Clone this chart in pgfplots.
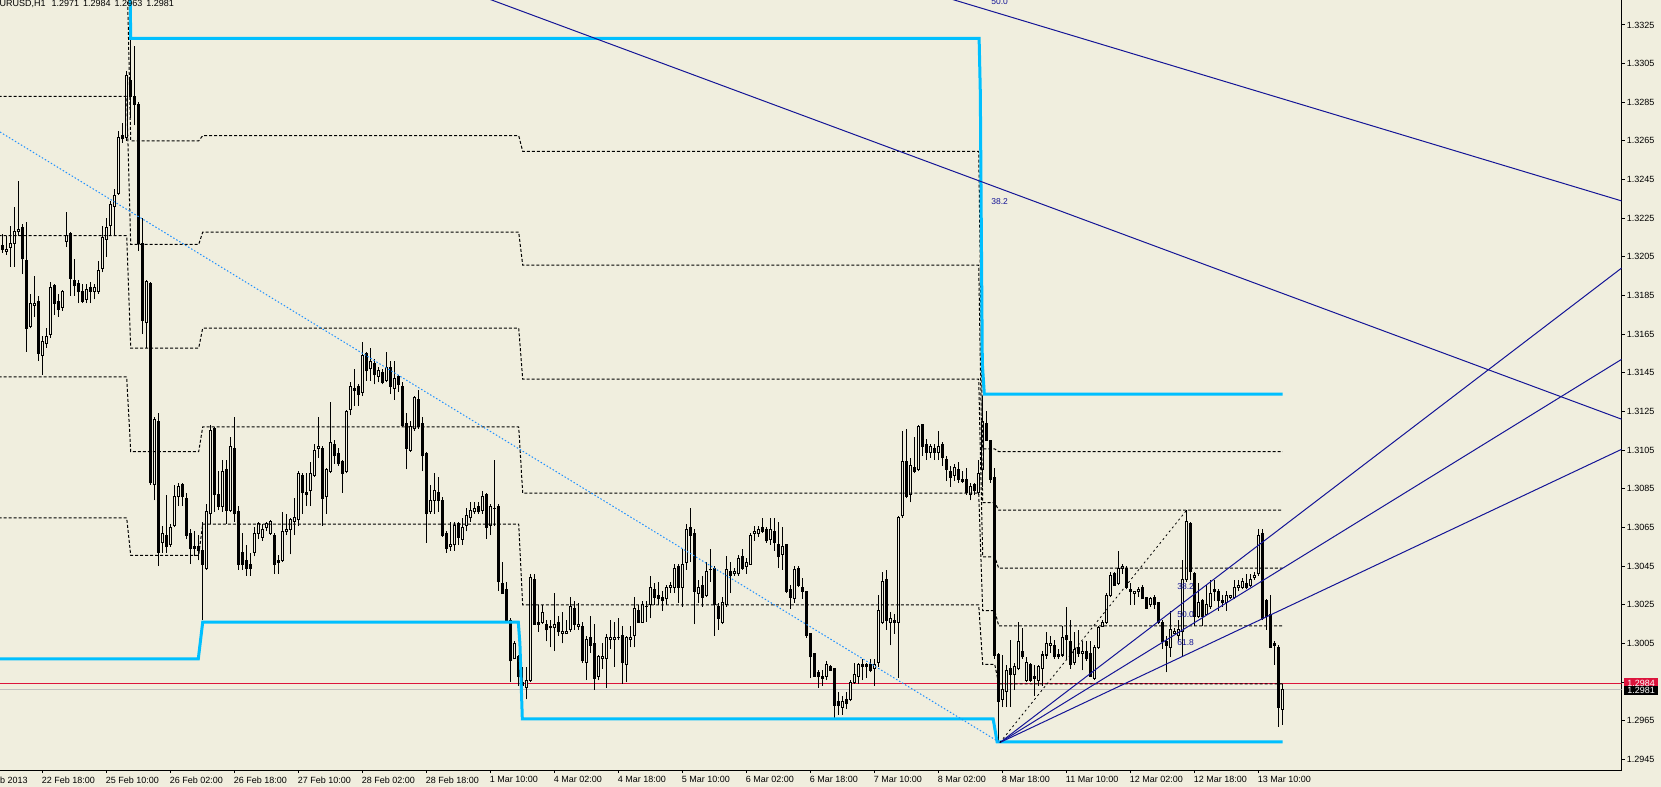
\documentclass[border=0pt]{standalone}
\usepackage{pgfplots}
\pgfplotsset{compat=1.18}
\usepackage{pgfplotstable}
\usepackage{fontspec}
\setmainfont{Liberation Sans}
\definecolor{bg}{RGB}{240,238,222}
\definecolor{cyanl}{RGB}{0,191,255}
\definecolor{dodger}{RGB}{30,144,255}
\definecolor{navyl}{RGB}{20,20,150}
\definecolor{askred}{RGB}{220,20,60}
\definecolor{bidgray}{RGB}{192,192,192}
\newcommand\tf{\fontsize{9bp}{10bp}\selectfont}
\newcommand\lf{\fontsize{8.5bp}{9bp}\selectfont}
\pgfplotstableread{
i O H L C
0 1.3211 1.3217 1.3207 1.3209
1 1.3208 1.3216 1.3206 1.3209
2 1.3210 1.3221 1.3200 1.3212
3 1.3212 1.3231 1.3200 1.3218
4 1.3218 1.3244 1.3216 1.3219
5 1.3220 1.3222 1.3196 1.3204
6 1.3203 1.3223 1.3156 1.3168
7 1.3169 1.3186 1.3168 1.3181
8 1.3180 1.3195 1.3174 1.3181
9 1.3182 1.3185 1.3151 1.3155
10 1.3154 1.3164 1.3144 1.3161
11 1.3160 1.3168 1.3158 1.3164
12 1.3165 1.3192 1.3163 1.3189
13 1.3190 1.3191 1.3175 1.3181
14 1.3182 1.3186 1.3174 1.3178
15 1.3179 1.3188 1.3177 1.3187
16 1.3213 1.3228 1.3210 1.3216
17 1.3217 1.3218 1.3185 1.3194
18 1.3193 1.3204 1.3185 1.3190
19 1.3191 1.3193 1.3181 1.3187
20 1.3187 1.3191 1.3181 1.3182
21 1.3183 1.3191 1.3181 1.3188
22 1.3189 1.3192 1.3181 1.3187
23 1.3187 1.3191 1.3183 1.3189
24 1.3187 1.3203 1.3186 1.3198
25 1.3199 1.3221 1.3197 1.3215
26 1.3214 1.3225 1.3205 1.3220
27 1.3221 1.3234 1.3216 1.3232
28 1.3231 1.3240 1.3216 1.3237
29 1.3238 1.3270 1.3237 1.3267
30 1.3268 1.3274 1.3264 1.3266
31 1.3267 1.3301 1.3265 1.3299
32 1.3296 1.3318 1.3277 1.3288
33 1.3288 1.3314 1.3273 1.3284
34 1.3284 1.3285 1.3208 1.3212
35 1.3212 1.3225 1.3165 1.3172
36 1.3171 1.3193 1.3158 1.3192
37 1.3191 1.3192 1.3087 1.3088
38 1.3087 1.3122 1.3079 1.3121
39 1.3120 1.3124 1.3045 1.3052
40 1.3057 1.3066 1.3052 1.3062
41 1.3061 1.3082 1.3052 1.3055
42 1.3056 1.3067 1.3055 1.3065
43 1.3066 1.3087 1.3065 1.3081
44 1.3081 1.3088 1.3076 1.3086
45 1.3087 1.3088 1.3076 1.3081
46 1.3080 1.3083 1.3059 1.3061
47 1.3062 1.3064 1.3046 1.3054
48 1.3055 1.3063 1.3050 1.3054
49 1.3055 1.3061 1.3048 1.3053
50 1.3053 1.3068 1.3017 1.3046
51 1.3044 1.3077 1.3043 1.3073
52 1.3072 1.3118 1.3067 1.3115
53 1.3116 1.3117 1.3073 1.3082
54 1.3082 1.3094 1.3074 1.3076
55 1.3076 1.3100 1.3073 1.3094
56 1.3095 1.3100 1.3067 1.3074
57 1.3074 1.3112 1.3073 1.3107
58 1.3106 1.3122 1.3068 1.3072
59 1.3073 1.3076 1.3043 1.3046
60 1.3052 1.3062 1.3043 1.3046
61 1.3048 1.3056 1.3040 1.3044
62 1.3046 1.3052 1.3040 1.3044
63 1.3052 1.3065 1.3050 1.3062
64 1.3062 1.3068 1.3059 1.3067
65 1.3060 1.3067 1.3058 1.3064
66 1.3065 1.3068 1.3063 1.3067
67 1.3062 1.3069 1.3061 1.3068
68 1.3061 1.3062 1.3041 1.3046
69 1.3048 1.3051 1.3041 1.3047
70 1.3048 1.3073 1.3047 1.3063
71 1.3063 1.3072 1.3061 1.3064
72 1.3064 1.3070 1.3051 1.3069
73 1.3068 1.3080 1.3061 1.3070
74 1.3069 1.3094 1.3066 1.3093
75 1.3092 1.3093 1.3072 1.3083
76 1.3083 1.3093 1.3076 1.3082
77 1.3084 1.3099 1.3076 1.3093
78 1.3092 1.3108 1.3091 1.3105
79 1.3106 1.3122 1.3101 1.3107
80 1.3106 1.3107 1.3066 1.3080
81 1.3081 1.3096 1.3072 1.3095
82 1.3094 1.3130 1.3093 1.3109
83 1.3108 1.3110 1.3098 1.3102
84 1.3103 1.3106 1.3097 1.3098
85 1.3099 1.3100 1.3083 1.3093
86 1.3094 1.3126 1.3093 1.3125
87 1.3126 1.3140 1.3123 1.3138
88 1.3137 1.3147 1.3128 1.3136
89 1.3138 1.3139 1.3128 1.3134
90 1.3135 1.3161 1.3133 1.3154
91 1.3155 1.3156 1.3141 1.3146
92 1.3147 1.3158 1.3141 1.3151
93 1.3150 1.3152 1.3139 1.3144
94 1.3143 1.3148 1.3140 1.3146
95 1.3145 1.3147 1.3139 1.3140
96 1.3141 1.3156 1.3140 1.3148
97 1.3148 1.3151 1.3134 1.3138
98 1.3137 1.3151 1.3131 1.3142
99 1.3143 1.3144 1.3135 1.3139
100 1.3138 1.3140 1.3117 1.3118
101 1.3119 1.3124 1.3095 1.3106
102 1.3105 1.3120 1.3104 1.3117
103 1.3116 1.3133 1.3115 1.3132
104 1.3131 1.3136 1.3116 1.3117
105 1.3119 1.3122 1.3094 1.3102
106 1.3103 1.3104 1.3057 1.3072
107 1.3073 1.3087 1.3072 1.3079
108 1.3079 1.3093 1.3072 1.3084
109 1.3083 1.3091 1.3073 1.3079
110 1.3079 1.3081 1.3060 1.3061
111 1.3062 1.3063 1.3052 1.3054
112 1.3055 1.3068 1.3053 1.3056
113 1.3056 1.3068 1.3053 1.3066
114 1.3067 1.3068 1.3056 1.3060
115 1.3059 1.3070 1.3056 1.3065
116 1.3066 1.3075 1.3063 1.3071
117 1.3070 1.3078 1.3068 1.3074
118 1.3073 1.3078 1.3072 1.3075
119 1.3076 1.3078 1.3072 1.3073
120 1.3074 1.3084 1.3072 1.3081
121 1.3082 1.3083 1.3059 1.3065
122 1.3066 1.3077 1.3061 1.3076
123 1.3075 1.3100 1.3066 1.3075
124 1.3076 1.3077 1.3032 1.3037
125 1.3036 1.3047 1.3031 1.3031
126 1.3033 1.3037 1.3017 1.3017
127 1.3017 1.3018 1.2985 1.2996
128 1.2997 1.3006 1.2997 1.3005
129 1.2998 1.2999 1.2983 1.2988
130 1.2985 1.2993 1.2982 1.2983
131 1.2982 1.2993 1.2976 1.2986
132 1.2986 1.3041 1.2985 1.3039
133 1.3038 1.3041 1.3015 1.3015
134 1.3016 1.3025 1.3011 1.3015
135 1.3016 1.3025 1.3015 1.3021
136 1.3015 1.3017 1.3006 1.3012
137 1.3014 1.3017 1.3003 1.3013
138 1.3013 1.3031 1.3001 1.3015
139 1.3016 1.3019 1.3009 1.3011
140 1.3010 1.3021 1.3005 1.3011
141 1.3010 1.3017 1.3010 1.3011
142 1.3012 1.3029 1.3011 1.3024
143 1.3023 1.3027 1.3012 1.3015
144 1.3014 1.3026 1.3012 1.3015
145 1.3014 1.3016 1.2995 1.2996
146 1.2995 1.3009 1.2986 1.3007
147 1.3008 1.3019 1.3000 1.3004
148 1.3005 1.3015 1.2981 1.2987
149 1.2988 1.2999 1.2986 1.2998
150 1.2997 1.3005 1.2992 1.2998
151 1.2997 1.3010 1.2982 1.3008
152 1.3007 1.3017 1.3002 1.3008
153 1.3007 1.3016 1.2993 1.3008
154 1.3008 1.3018 1.3007 1.3008
155 1.3009 1.3014 1.2984 1.2995
156 1.2994 1.3009 1.2985 1.3008
157 1.3007 1.3014 1.3003 1.3008
158 1.3009 1.3029 1.3003 1.3023
159 1.3022 1.3025 1.3016 1.3016
160 1.3016 1.3027 1.3016 1.3025
161 1.3024 1.3027 1.3016 1.3024
162 1.3025 1.3040 1.3018 1.3034
163 1.3033 1.3036 1.3025 1.3029
164 1.3030 1.3037 1.3025 1.3028
165 1.3029 1.3032 1.3022 1.3027
166 1.3028 1.3035 1.3025 1.3034
167 1.3034 1.3037 1.3031 1.3035
168 1.3034 1.3046 1.3031 1.3044
169 1.3045 1.3046 1.3026 1.3034
170 1.3034 1.3054 1.3024 1.3046
171 1.3047 1.3067 1.3043 1.3064
172 1.3065 1.3075 1.3047 1.3061
173 1.3062 1.3064 1.3015 1.3032
174 1.3031 1.3038 1.3026 1.3034
175 1.3035 1.3040 1.3024 1.3029
176 1.3030 1.3047 1.3029 1.3042
177 1.3043 1.3054 1.3037 1.3043
178 1.3044 1.3045 1.3009 1.3025
179 1.3024 1.3026 1.3012 1.3018
180 1.3016 1.3029 1.3015 1.3026
181 1.3025 1.3050 1.3024 1.3043
182 1.3042 1.3047 1.3031 1.3040
183 1.3041 1.3044 1.3040 1.3042
184 1.3041 1.3051 1.3040 1.3049
185 1.3050 1.3054 1.3043 1.3044
186 1.3045 1.3049 1.3041 1.3047
187 1.3046 1.3062 1.3046 1.3061
188 1.3062 1.3066 1.3058 1.3063
189 1.3062 1.3066 1.3060 1.3064
190 1.3065 1.3070 1.3062 1.3063
191 1.3064 1.3065 1.3057 1.3058
192 1.3059 1.3070 1.3056 1.3064
193 1.3063 1.3070 1.3053 1.3057
194 1.3056 1.3068 1.3044 1.3050
195 1.3051 1.3065 1.3043 1.3055
196 1.3056 1.3056 1.3031 1.3032
197 1.3033 1.3035 1.3023 1.3029
198 1.3028 1.3045 1.3026 1.3043
199 1.3044 1.3045 1.3034 1.3035
200 1.3034 1.3039 1.3028 1.3032
201 1.3032 1.3032 1.3008 1.3009
202 1.3010 1.3010 1.2987 1.2998
203 1.3000 1.3000 1.2988 1.2988
204 1.2990 1.2991 1.2982 1.2988
205 1.2988 1.2991 1.2983 1.2987
206 1.2988 1.2996 1.2986 1.2994
207 1.2993 1.2994 1.2991 1.2991
208 1.2992 1.2992 1.2966 1.2973
209 1.2975 1.2980 1.2968 1.2973
210 1.2972 1.2978 1.2968 1.2975
211 1.2976 1.2980 1.2971 1.2974
212 1.2976 1.2986 1.2975 1.2985
213 1.2985 1.2995 1.2984 1.2989
214 1.2988 1.2995 1.2984 1.2994
215 1.2994 1.2997 1.2986 1.2993
216 1.2994 1.2995 1.2987 1.2993
217 1.2994 1.2997 1.2990 1.2991
218 1.2992 1.2997 1.2983 1.2994
219 1.2995 1.3030 1.2993 1.3022
220 1.3016 1.3042 1.3015 1.3037
221 1.3038 1.3043 1.3012 1.3017
222 1.3016 1.3021 1.3004 1.3018
223 1.3017 1.3020 1.3010 1.3016
224 1.3016 1.3071 1.2987 1.3070
225 1.3071 1.3115 1.3070 1.3099
226 1.3099 1.3116 1.3080 1.3081
227 1.3082 1.3101 1.3078 1.3097
228 1.3096 1.3112 1.3093 1.3094
229 1.3095 1.3118 1.3094 1.3117
230 1.3118 1.3118 1.3102 1.3107
231 1.3108 1.3111 1.3100 1.3104
232 1.3104 1.3108 1.3101 1.3107
233 1.3106 1.3108 1.3100 1.3104
234 1.3104 1.3115 1.3100 1.3107
235 1.3108 1.3109 1.3097 1.3101
236 1.3100 1.3102 1.3089 1.3095
237 1.3094 1.3097 1.3086 1.3091
238 1.3092 1.3098 1.3089 1.3096
239 1.3095 1.3099 1.3088 1.3090
240 1.3090 1.3094 1.3088 1.3089
241 1.3090 1.3096 1.3082 1.3083
242 1.3082 1.3088 1.3079 1.3086
243 1.3087 1.3088 1.3082 1.3084
244 1.3083 1.3100 1.3082 1.3093
245 1.3095 1.3133 1.3086 1.3120
246 1.3119 1.3125 1.3110 1.3110
247 1.3110 1.3110 1.3088 1.3090
248 1.3091 1.3096 1.2997 1.2999
249 1.2999 1.3000 1.2954 1.2975
250 1.2976 1.2999 1.2972 1.2981
251 1.2980 1.2994 1.2972 1.2991
252 1.2992 1.3007 1.2972 1.2989
253 1.2989 1.2995 1.2981 1.2993
254 1.2992 1.3016 1.2991 1.3006
255 1.3001 1.3013 1.2997 1.2998
256 1.2986 1.2998 1.2985 1.2995
257 1.2994 1.2995 1.2985 1.2986
258 1.2988 1.2994 1.2978 1.2987
259 1.2986 1.2994 1.2983 1.2993
260 1.2992 1.3001 1.2983 1.2999
261 1.2999 1.3011 1.2997 1.3005
262 1.3004 1.3009 1.3000 1.3005
263 1.3004 1.3007 1.2997 1.2998
264 1.2999 1.3002 1.2997 1.2998
265 1.2999 1.3014 1.2998 1.3008
266 1.3009 1.3024 1.2997 1.3007
267 1.3006 1.3017 1.2992 1.2994
268 1.2995 1.3011 1.2994 1.3002
269 1.3003 1.3012 1.2998 1.3000
270 1.3000 1.3006 1.2991 1.3001
271 1.3001 1.3006 1.2996 1.2997
272 1.3000 1.3006 1.2988 1.2988
273 1.2987 1.3004 1.2986 1.3003
274 1.3003 1.3014 1.3002 1.3013
275 1.3014 1.3017 1.3014 1.3016
276 1.3016 1.3031 1.3015 1.3030
277 1.3030 1.3042 1.3029 1.3040
278 1.3041 1.3042 1.3035 1.3035
279 1.3036 1.3053 1.3035 1.3044
280 1.3044 1.3046 1.3041 1.3045
281 1.3044 1.3045 1.3033 1.3034
282 1.3033 1.3036 1.3025 1.3032
283 1.3031 1.3032 1.3025 1.3032
284 1.3032 1.3034 1.3029 1.3033
285 1.3034 1.3035 1.3028 1.3028
286 1.3029 1.3029 1.3023 1.3023
287 1.3025 1.3029 1.3024 1.3028
288 1.3029 1.3030 1.3023 1.3025
289 1.3026 1.3026 1.3015 1.3016
290 1.3016 1.3017 1.3002 1.3006
291 1.3006 1.3009 1.2990 1.3004
292 1.3003 1.3022 1.2998 1.3012
293 1.3010 1.3013 1.3010 1.3011
294 1.3009 1.3017 1.3006 1.3012
295 1.3011 1.3048 1.2998 1.3038
296 1.3038 1.3074 1.3037 1.3068
297 1.3067 1.3068 1.3038 1.3042
298 1.3041 1.3042 1.3014 1.3019
299 1.3019 1.3036 1.3018 1.3026
300 1.3027 1.3028 1.3014 1.3019
301 1.3020 1.3035 1.3020 1.3025
302 1.3024 1.3038 1.3023 1.3031
303 1.3033 1.3038 1.3027 1.3032
304 1.3032 1.3033 1.3022 1.3027
305 1.3027 1.3030 1.3024 1.3026
306 1.3026 1.3032 1.3022 1.3030
307 1.3029 1.3030 1.3028 1.3030
308 1.3029 1.3038 1.3028 1.3034
309 1.3034 1.3038 1.3032 1.3035
310 1.3034 1.3039 1.3033 1.3037
311 1.3036 1.3041 1.3033 1.3034
312 1.3035 1.3041 1.3034 1.3038
313 1.3039 1.3042 1.3038 1.3040
314 1.3041 1.3064 1.3040 1.3061
315 1.3062 1.3064 1.3017 1.3018
316 1.3027 1.3028 1.3012 1.3019
317 1.3020 1.3030 1.3003 1.3003
318 1.3005 1.3006 1.2994 1.3004
319 1.3003 1.3004 1.2962 1.2972
320 1.2971 1.2984 1.2963 1.2981
}\candles
\begin{document}
\begin{tikzpicture}
\fill[bg] (0,-17bp) rectangle (1661bp,770bp);
\begin{axis}[
  at={(0,0)}, anchor=south west,
  scale only axis, width=1621.7bp, height=770bp,
  xmin=-0.675, xmax=404.75, ymin=1.29395, ymax=1.33379,
  axis x line*=bottom, axis y line*=right,
  axis line style={black, line width=1bp},
  tick align=outside, major tick length=3bp,
  tick style={black, line width=1bp},
  xtick={10,26,42,58,74,90,106,122,138,154,170,186,202,218,234,250,266,282,298,314},
  xticklabels={22 Feb 18:00,25 Feb 10:00,26 Feb 02:00,26 Feb 18:00,27 Feb 10:00,28 Feb 02:00,28 Feb 18:00,1 Mar 10:00,4 Mar 02:00,4 Mar 18:00,5 Mar 10:00,6 Mar 02:00,6 Mar 18:00,7 Mar 10:00,8 Mar 02:00,8 Mar 18:00,11 Mar 10:00,12 Mar 02:00,12 Mar 18:00,13 Mar 10:00},
  ytick={1.2945,1.2965,1.2985,1.3005,1.3025,1.3045,1.3065,1.3085,1.3105,1.3125,1.3145,1.3165,1.3185,1.3205,1.3225,1.3245,1.3265,1.3285,1.3305,1.3325},
  yticklabels={1.2945,1.2965,1.2985,1.3005,1.3025,1.3045,1.3065,1.3085,1.3105,1.3125,1.3145,1.3165,1.3185,1.3205,1.3225,1.3245,1.3265,1.3285,1.3305,1.3325},
  xticklabel style={anchor=north west, inner sep=0pt, font=\tf, xshift=-1bp, yshift=-3.3bp},
  yticklabel style={anchor=west, inner sep=0pt, font=\tf, xshift=2bp},
  scaled y ticks=false,
  clip=true,
]
% ask / bid lines
\addplot[askred, line width=1bp, forget plot] coordinates {(-1,1.2984) (405,1.2984)};
\addplot[bidgray, line width=1bp, forget plot] coordinates {(-1,1.2981) (405,1.2981)};
% candles: wicks
\addplot[draw=none, mark=none, forget plot,
  error bars/.cd, y dir=plus, y explicit, error mark=none,
  error bar style={draw=black, line width=1bp, solid}]
  table[x=i, y=L, y error expr={\thisrow{H}-\thisrow{L}}] {\candles};
% bodies
\addplot[draw=none, mark=none, forget plot,
  error bars/.cd, y dir=plus, y explicit, error mark=none,
  error bar style={draw=black, line width=3bp, solid}]
  table[x=i, y expr={min(\thisrow{O},\thisrow{C})-0.000026}, y error expr={abs(\thisrow{O}-\thisrow{C})+0.000052}] {\candles};
% hollow bull bodies
\addplot[draw=none, mark=none, forget plot,
  y filter/.expression={\thisrow{C}-\thisrow{O}>0.00006 ? y : nan},
  error bars/.cd, y dir=plus, y explicit, error mark=none,
  error bar style={draw=bg, line width=1bp, solid}]
  table[x=i, y expr={\thisrow{O}+0.000026}, y error expr={\thisrow{C}-\thisrow{O}-0.000052}] {\candles};
% dashed level lines
\addplot[black, line width=1bp, dash pattern=on 3bp off 2bp, forget plot] coordinates {(-1,1.33612) (31,1.33612) (32,1.32650) (49,1.32650) (50,1.32677) (129,1.32677) (130,1.32596) (244,1.32596) (245,1.31056) (248,1.31056) (249,1.31042) (320,1.31042)};
\addplot[black, line width=1bp, dash pattern=on 3bp off 2bp, forget plot] coordinates {(-1,1.32880) (31,1.32880) (32,1.32114) (49,1.32114) (50,1.32178) (129,1.32178) (130,1.32007) (244,1.32007) (245,1.30778) (248,1.30778) (249,1.30739) (320,1.30739)};
\addplot[black, line width=1bp, dash pattern=on 3bp off 2bp, forget plot] coordinates {(-1,1.32160) (31,1.32160) (32,1.31578) (49,1.31578) (50,1.31681) (129,1.31681) (130,1.31417) (244,1.31417) (245,1.30498) (248,1.30498) (249,1.30439) (320,1.30439)};
\addplot[black, line width=1bp, dash pattern=on 3bp off 2bp, forget plot] coordinates {(-1,1.31429) (31,1.31429) (32,1.31042) (49,1.31042) (50,1.31170) (129,1.31170) (130,1.30827) (244,1.30827) (245,1.30220) (248,1.30220) (249,1.30141) (320,1.30141)};
\addplot[black, line width=1bp, dash pattern=on 3bp off 2bp, forget plot] coordinates {(-1,1.30699) (31,1.30699) (32,1.30506) (49,1.30506) (50,1.30667) (129,1.30667) (130,1.30249) (244,1.30249) (245,1.29942) (248,1.29942) (249,1.29841) (320,1.29841)};
% cyan channel
\addplot[cyanl, line width=3bp, forget plot] coordinates {(31.8,1.3350) (32,1.3318) (244.1,1.3318) (244.4,1.3290) (244.9,1.3150) (245.4,1.3134) (320,1.3134)};
\addplot[cyanl, line width=3bp, forget plot] coordinates {(-1,1.2997) (48.9,1.2997) (50,1.3016) (128.9,1.3016) (129.3,1.3005) (129.9,1.2966) (247.6,1.2966) (248.6,1.2954) (320,1.2954)};
% dotted blue trend line
\addplot[dodger, line width=1bp, dash pattern=on 1.5bp off 2bp, forget plot] coordinates {(-0.675,1.32696) (249.3,1.29537)};
% fibo lines
\addplot[navyl, line width=1bp, forget plot] coordinates {(100,1.335497) (404.75,1.312098)};
\addplot[navyl, line width=1bp, forget plot] coordinates {(230,1.334281) (404.75,1.323392)};
\addplot[navyl, line width=1bp, forget plot] coordinates {(249.3,1.29537) (404.75,1.319926)};
\addplot[navyl, line width=1bp, forget plot] coordinates {(249.3,1.29537) (404.75,1.315202)};
\addplot[navyl, line width=1bp, forget plot] coordinates {(249.3,1.29537) (404.75,1.310546)};
\addplot[black, line width=0.8bp, dash pattern=on 2bp off 3bp, forget plot] coordinates {(249.3,1.29537) (296,1.3074)};
\node[anchor=west, inner sep=0pt, font=\lf, text=navyl] at (axis cs:247.1,1.32334) {38.2};
\node[anchor=west, inner sep=0pt, font=\lf, text=navyl] at (axis cs:247.1,1.33369) {50.0};
\node[anchor=west, inner sep=0pt, font=\lf, text=navyl] at (axis cs:293.6,1.30344) {38.2};
\node[anchor=west, inner sep=0pt, font=\lf, text=navyl] at (axis cs:293.6,1.30197) {50.0};
\node[anchor=west, inner sep=0pt, font=\lf, text=navyl] at (axis cs:293.6,1.30054) {61.8};
\coordinate (ask) at (axis cs:404.75,1.2984);
\coordinate (bid) at (axis cs:404.75,1.2981);
\coordinate (tl) at (axis cs:-0.675,1.33379);
\coordinate (first) at (axis cs:-6.2,1.29395);
\end{axis}
\node[anchor=west, fill=askred, text=white, font=\tf, inner xsep=2bp, inner ysep=1.5bp, minimum width=34bp, align=left] at ([xshift=2.3bp,yshift=1bp]ask) {1.2984};
\node[anchor=west, fill=black, text=white, font=\tf, inner xsep=2bp, inner ysep=1.5bp, minimum width=34bp, align=left] at ([xshift=2.3bp,yshift=-0.5bp]bid) {1.2981};
\node[anchor=north west, inner sep=0pt, font=\tf] at ([xshift=-6.5bp]tl) {EURUSD,H1\hspace{6bp}1.2971\hspace{4bp}1.2984\hspace{4bp}1.2963\hspace{4bp}1.2981};
\node[anchor=north west, inner sep=0pt, font=\tf] at ([xshift=-1bp,yshift=-6.3bp]first) {22 Feb 2013};
\pgfresetboundingbox
\path[use as bounding box] (0,-17bp) rectangle (1661bp,770bp);
\end{tikzpicture}
\end{document}
